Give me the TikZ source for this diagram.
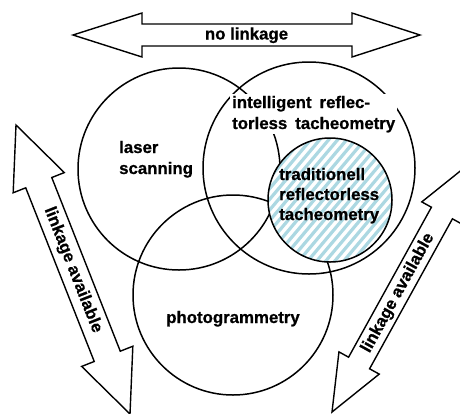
\documentclass[tikz,border=0pt]{standalone}
\usepackage{fontspec}
\setmainfont{Liberation Sans}[BoldFont={Liberation Sans Bold}, BoldFeatures={FakeBold=0.8}]
\definecolor{stripecol}{RGB}{172,216,226}
\begin{document}
\begin{tikzpicture}[x=1pt,y=-1pt,
  ring/.style={circle, draw=black, line width=1.5pt, inner sep=0pt},
  bigarrow/.style={draw=black, fill=white, line width=1.4pt, line join=miter},
  lbl/.style={font=\fontsize{16.8}{20}\selectfont\bfseries, inner sep=2pt},
  stripe/.style={draw=stripecol, line width=3.2pt}]
\clip (0,0) rectangle (460,413);
% circles
\node[ring, minimum size=202pt] (laserc) at (179,169) {};
\node[ring, minimum size=212pt] (intelc) at (309,168) {};
\node[ring, minimum size=200pt] (photoc) at (233,295) {};
\node[circle, fill=white, inner sep=0pt, minimum size=124pt] (tradfill) at (330,200) {};
\begin{scope}
  \clip (330,200) circle[radius=62pt];
  \foreach \k in {-22,...,22} {
    \draw[stripe] ({230+9*\k},300) -- ++(200,-238);
  }
\end{scope}
\node[ring, minimum size=124pt] (tradc) at (330,200) {};
% labels
\node[lbl, anchor=base west] (laser) at (117,153)
  {\vtop{\baselineskip=21pt\hbox{laser}\hbox{scanning}}};
\node[lbl, anchor=base west, fill=white] (intel) at (230,108)
  {\vtop{\baselineskip=21pt\hbox{intelligent\hspace{8pt}reflec-}\hbox{torless\hspace{8pt}tacheometry}}};
\node[lbl, anchor=base west] (trad) at (277,180)
  {\vtop{\baselineskip=20pt\hbox{traditionell}\hbox{reflectorless}\hbox{tacheometry}}};
\node[lbl, anchor=base] (photo) at (233,323) {photogrammetry};
% top arrow
\draw[bigarrow] (73,35) -- (142,13) -- (142,24) -- (352,24) -- (352,13) -- (420,35)
  -- (352,57) -- (352,46) -- (142,46) -- (142,57) -- cycle;
\node[lbl, anchor=base] (nolink) at (246.5,39.5) {no linkage};
% left arrow
\draw[bigarrow] (16,125) -- (64.33,172.58) -- (51.77,177.53) -- (120.27,351.19)
  -- (132.83,346.24) -- (130,414) -- (81.67,366.42) -- (94.23,361.47)
  -- (25.73,187.81) -- (13.17,192.76) -- cycle;
\node[lbl, rotate=-68.5] (linkl) at (73,270) {linkage available};
% right arrow
\draw[bigarrow] (332,412) -- (338.95,351.86) -- (348.58,357.18) -- (431.42,207.22)
  -- (421.79,201.90) -- (469,164) -- (462.05,224.14) -- (452.42,218.82)
  -- (369.58,368.78) -- (379.21,374.10) -- cycle;
\node[lbl, rotate=61.1] (linkr) at (398,293) {linkage available};
\end{tikzpicture}
\end{document}
